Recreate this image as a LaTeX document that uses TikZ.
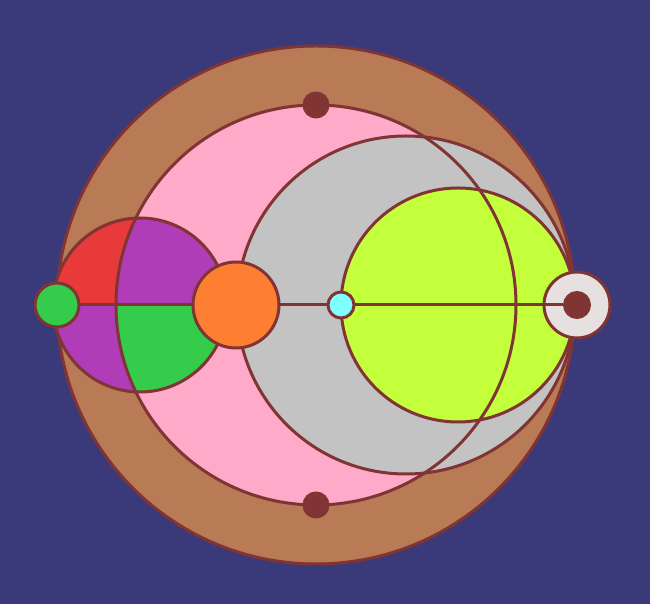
\documentclass[tikz,border=0pt]{standalone}
\definecolor{night}{RGB}{58,57,122}
\definecolor{rim}{RGB}{128,52,52}
\definecolor{clay}{RGB}{184,123,86}
\definecolor{blush}{RGB}{255,170,200}
\definecolor{ash}{RGB}{195,195,195}
\definecolor{lime}{RGB}{195,255,58}
\definecolor{ruby}{RGB}{232,58,58}
\definecolor{plum}{RGB}{176,60,184}
\definecolor{leaf}{RGB}{52,204,74}
\definecolor{tang}{RGB}{255,127,50}
\definecolor{aqua}{RGB}{128,255,255}
\definecolor{mist}{RGB}{230,224,224}
\begin{document}
\begin{tikzpicture}[x=0.02cm,y=0.02cm,line width=0.06cm]
\tikzset{disc/.style={circle,draw=rim,inner sep=0pt,minimum size=#1}}
\useasboundingbox[fill=night] (-316,-299) rectangle (334,305);

\filldraw[fill=clay,draw=rim] (0,0) circle(259);
\fill[blush] (0,0) circle(200);
\filldraw[fill=ash,draw=rim] (90,0) circle(169);
\filldraw[fill=lime,draw=rim] (142,0) circle(117);

\begin{scope}
\clip (-176,0) circle(87);
\fill[ruby] (-263,0) rectangle (-89,87);
\fill[plum] (-263,-87) rectangle (-89,0);
\clip (0,0) circle(200);
\fill[plum] (-263,0) rectangle (-89,87);
\fill[leaf] (-263,-87) rectangle (-89,0);
\end{scope}
\draw[rim] (-176,0) circle(87);
\draw[rim] (0,0) circle(200);

\node[disc=1.32cm,fill=mist] (ring) at (261,0) {};
\node[disc=0.5cm,fill=rim] (hub) at (261,0) {};
\node[disc=0.88cm,fill=leaf] (gdot) at (-259,0) {};
\node[disc=1.72cm,fill=tang] (orange) at (-80,0) {};
\node[disc=0.52cm,fill=aqua] (cyan) at (25,0) {};
\node[disc=0.48cm,fill=rim] (top) at (0,200) {};
\node[disc=0.48cm,fill=rim] (bot) at (0,-200) {};

\draw[rim] (gdot) -- (orange);
\draw[rim] (orange) -- (cyan);
\draw[rim] (cyan) -- (hub);
\end{tikzpicture}
\end{document}
